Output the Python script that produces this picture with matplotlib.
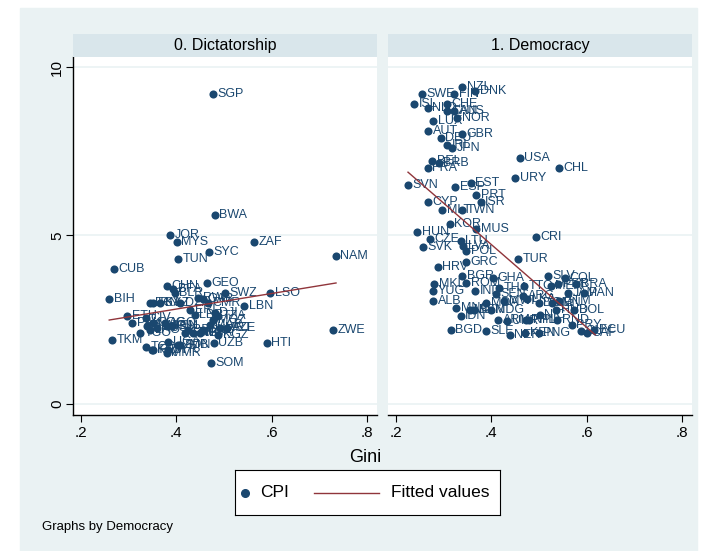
import matplotlib.pyplot as plt
from matplotlib.patches import Rectangle
import numpy as np

plt.rcParams['font.family'] = ['Liberation Sans', 'DejaVu Sans']

# 0. Dictatorship -------------------------------------------------------------
dict_codes = ["SGP", "BWA", "JOR", "MYS", "SYC", "TUN", "ZAF", "NAM", "CUB", "CHN",
              "GEO", "BIH", "SWZ", "LSO", "LBN", "ZWE", "HTI", "UZB", "SOM", "TKM",
              "MMR", "TCD", "IRQ", "SDN", "BFA", "BLR", "DZA", "EGY", "IRN", "RWA",
              "KAZ", "GAB", "ETH", "PAK", "TGO", "CMR", "CIV", "VNM", "LAO", "COG",
              "RUS", "AGO", "YEM", "GIN", "GMB", "MOZ", "DJI", "TZA", "AZE", "KGZ",
              "BDI", "TJK", "NGA", "GNB", "MAR", "MRT", "UGA", "ZMB", "SYR", "KHM",
              "ERI", "LBR"]
dict_gini = [0.477, 0.481, 0.387, 0.401, 0.469, 0.404, 0.563, 0.735, 0.269, 0.380,
             0.464, 0.259, 0.502, 0.597, 0.542, 0.729, 0.590, 0.479, 0.473, 0.265,
             0.380, 0.336, 0.349, 0.408, 0.393, 0.397, 0.408, 0.345, 0.351, 0.446,
             0.366, 0.456, 0.297, 0.307, 0.324, 0.467, 0.336, 0.338, 0.345, 0.351,
             0.359, 0.376, 0.380, 0.391, 0.418, 0.477, 0.481, 0.488, 0.507, 0.488,
             0.425, 0.435, 0.450, 0.456, 0.471, 0.492, 0.383, 0.404, 0.383, 0.351,
             0.429, 0.439]
dict_cpi = [9.2, 5.6, 5.0, 4.8, 4.5, 4.3, 4.8, 4.4, 4.0, 3.5,
            3.6, 3.1, 3.3, 3.3, 2.9, 2.2, 1.8, 1.8, 1.2, 1.9,
            1.5, 1.7, 1.6, 1.75, 3.4, 3.3, 3.0, 3.0, 3.0, 3.15,
            3.0, 3.1, 2.6, 2.4, 2.1, 3.0, 2.55, 2.3, 2.2, 2.4,
            2.25, 2.4, 2.3, 2.3, 2.1, 2.5, 2.7, 2.6, 2.25, 2.05,
            2.2, 2.1, 2.1, 2.2, 2.35, 2.25, 1.85, 1.75, 1.6, 1.6,
            2.8, 2.65]
dict_fit_x = [0.259, 0.735]
dict_fit_y = [2.49, 3.59]

# 1. Democracy ----------------------------------------------------------------
demo_codes = ["NZL", "DNK", "SWE", "FIN", "ISL", "NLD", "CHE", "CAN", "AUS", "NOR",
              "LUX", "AUT", "GBR", "DEU", "IRL", "JPN", "USA", "BEL", "BRB", "FRA",
              "CHL", "URY", "SVN", "EST", "ESP", "PRT", "ISR", "CYP", "MLT", "TWN",
              "KOR", "MUS", "HUN", "CRI", "CZE", "LTU", "LVA", "SVK", "POL", "TUR",
              "GRC", "HRV", "BGR", "GHA", "SLV", "COL", "ROM", "MKD", "THA", "TTO",
              "MEX", "PER", "BRA", "YUG", "IND", "SEN", "JAM", "PAN", "ALB", "MDA",
              "MWI", "ARG", "LKA", "DOM", "VEN", "GTM", "MNG", "MLI", "MDG", "BEN",
              "BOL", "HND", "IDN", "UKR", "NIC", "ARM", "NPL", "PHL", "RND", "PRY",
              "BGD", "SLE", "NER", "KEN", "PNG", "GUY", "CAF", "ECU"]
demo_gini = [0.339, 0.366, 0.255, 0.322, 0.238, 0.267, 0.307, 0.307, 0.322, 0.328,
             0.278, 0.267, 0.339, 0.294, 0.307, 0.318, 0.460, 0.276, 0.290, 0.267,
             0.542, 0.450, 0.225, 0.357, 0.324, 0.368, 0.378, 0.267, 0.297, 0.339,
             0.313, 0.368, 0.244, 0.494, 0.271, 0.336, 0.341, 0.257, 0.347, 0.456,
             0.347, 0.288, 0.339, 0.404, 0.519, 0.555, 0.347, 0.280, 0.416, 0.469,
             0.525, 0.540, 0.578, 0.278, 0.366, 0.410, 0.561, 0.595, 0.278, 0.389,
             0.427, 0.467, 0.475, 0.500, 0.527, 0.542, 0.326, 0.355, 0.399, 0.364,
             0.574, 0.536, 0.336, 0.433, 0.502, 0.414, 0.479, 0.473, 0.538, 0.569,
             0.315, 0.389, 0.439, 0.471, 0.500, 0.588, 0.601, 0.616]
demo_cpi = [9.4, 9.3, 9.2, 9.2, 8.9, 8.8, 8.9, 8.7, 8.7, 8.5,
            8.4, 8.1, 8.0, 7.9, 7.7, 7.6, 7.3, 7.2, 7.15, 7.0,
            7.0, 6.7, 6.5, 6.55, 6.45, 6.2, 6.0, 6.0, 5.75, 5.75,
            5.35, 5.2, 5.1, 4.95, 4.9, 4.85, 4.7, 4.65, 4.55, 4.3,
            4.2, 4.05, 3.8, 3.75, 3.8, 3.75, 3.6, 3.55, 3.45, 3.5,
            3.5, 3.55, 3.55, 3.35, 3.35, 3.25, 3.3, 3.3, 3.05, 3.0,
            3.05, 3.2, 3.1, 3.0, 3.0, 3.05, 2.85, 2.8, 2.8, 2.8,
            2.8, 2.8, 2.6, 2.45, 2.65, 2.5, 2.5, 2.5, 2.5, 2.35,
            2.2, 2.15, 2.05, 2.1, 2.1, 2.15, 2.1, 2.2]
demo_fit_x = [0.225, 0.618]
demo_fit_y = [6.88, 2.05]

panels = [("0. Dictatorship", dict_codes, dict_gini, dict_cpi, dict_fit_x, dict_fit_y),
          ("1. Democracy", demo_codes, demo_gini, demo_cpi, demo_fit_x, demo_fit_y)]

navy = "#1a476f"
maroon = "#90353b"
bg = "#eaf2f3"
strip = "#d9e6eb"

fig = plt.figure(figsize=(7.04, 5.51), dpi=100)
fig.patch.set_facecolor("white")
fig.patches.append(Rectangle((20 / 704, 0), 677 / 704, 1 - 8 / 551,
                             transform=fig.transFigure, color=bg, zorder=-10))

lefts = [73 / 704, 388 / 704]
w = 304 / 704
bottom = 1 - 415 / 551
h = (415 - 57) / 551

for i, (title, codes, gx, cy, fx, fy) in enumerate(panels):
    ax = fig.add_axes([lefts[i], bottom, w, h])
    ax.set_facecolor("white")
    for yv in [0, 5, 10]:
        ax.axhline(yv, color=bg, lw=1.2, zorder=0)
    ax.scatter(gx, cy, s=34, color=navy, zorder=3, linewidths=0)
    for c, x, y in zip(codes, gx, cy):
        ax.annotate(c, (x, y), xytext=(3.2, 0), textcoords="offset points",
                    fontsize=9, color=navy, va="center", ha="left", zorder=4)
    ax.plot(fx, fy, color=maroon, lw=1, zorder=5)

    ax.set_xlim(0.183, 0.821)
    ax.set_ylim(-0.33, 10.3)
    ax.set_xticks([0.2, 0.4, 0.6, 0.8])
    ax.set_xticklabels([".2", ".4", ".6", ".8"], fontsize=11)
    for s in ["top", "right"]:
        ax.spines[s].set_visible(False)
    ax.spines["bottom"].set_color("black")
    ax.spines["bottom"].set_linewidth(1)
    ax.tick_params(axis="x", direction="out", length=5, width=0.8, pad=3)
    if i == 0:
        ax.spines["left"].set_color("black")
        ax.spines["left"].set_linewidth(1)
        ax.set_yticks([0, 5, 10])
        ax.set_yticklabels(["0", "5", "10"], fontsize=11, rotation=90, va="center")
        ax.tick_params(axis="y", direction="out", length=5, width=0.8, pad=1.5)
    else:
        ax.spines["left"].set_visible(False)
        ax.set_yticks([])

    sax = fig.add_axes([lefts[i], 1 - 57 / 551, w, 23 / 551])
    sax.set_facecolor(strip)
    sax.set_xticks([])
    sax.set_yticks([])
    for s in sax.spines.values():
        s.set_visible(False)
    sax.text(0.5, 0.5, title, ha="center", va="center", fontsize=11.5,
             transform=sax.transAxes)

fig.text(365 / 704, 1 - 457 / 551, "Gini", ha="center", va="center", fontsize=13)

# legend box drawn by hand so that the keys sit as in the original
lax = fig.add_axes([235 / 704, 1 - 515 / 551, 265 / 704, 45 / 551])
lax.set_facecolor("white")
lax.set_xlim(0, 265)
lax.set_ylim(0, 45)
lax.set_xticks([])
lax.set_yticks([])
for s in lax.spines.values():
    s.set_color("black")
    s.set_linewidth(0.8)
lax.plot([10], [22.5], marker="o", color=navy, markersize=5.5, ls="none")
lax.text(25, 22.5, "CPI", fontsize=12.5, va="center", ha="left")
lax.plot([79, 144], [22.5, 22.5], color=maroon, lw=1)
lax.text(156, 22.5, "Fitted values", fontsize=12.5, va="center", ha="left")

fig.text(42 / 704, 1 - 527 / 551, "Graphs by Democracy", ha="left", va="center",
         fontsize=9.5)

fig.savefig("out.png", dpi=100, facecolor=fig.get_facecolor())
